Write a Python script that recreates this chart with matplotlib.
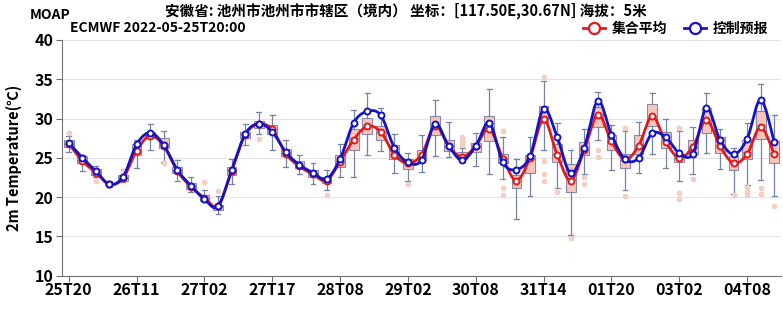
import numpy as np
import pandas as pd
import matplotlib
matplotlib.use('Agg')
import matplotlib.pyplot as plt
from matplotlib.lines import Line2D

plt.rcParams['font.family'] = ['Noto Sans CJK SC', 'DejaVu Sans']

# time axis: 3-hourly to 28T20, then 6-hourly
times = list(pd.date_range('2022-05-25 20:00', '2022-05-28 20:00', freq='3h')) + \
        list(pd.date_range('2022-05-29 02:00', '2022-06-04 20:00', freq='6h'))
labels = [t.strftime('%dT%H') for t in times]

# control forecast (blue) and ensemble mean (red)
ctrl = [26.9, 25.0, 23.3, 21.65, 22.55, 26.7, 28.2, 26.6, 23.45, 21.45,
        19.7, 18.8, 23.4, 28.0, 29.35, 28.3, 25.7, 24.1, 23.1, 22.3,
        24.85, 29.45, 30.9, 30.4, 26.3, 24.4, 24.7, 29.3, 26.5, 24.7,
        26.5, 29.45, 24.4, 23.5, 25.2, 31.2, 27.65, 23.0, 26.3, 32.25,
        27.95, 24.8, 24.95, 28.1, 27.6, 25.6, 25.5, 31.3, 27.3, 25.45,
        27.4, 32.4, 27.0]
ens_mean = [26.8, 24.6, 23.1, 21.6, 22.4, 25.9, 27.8, 26.5, 23.3, 21.3,
            19.9, 18.9, 23.3, 27.9, 29.3, 28.6, 25.5, 23.9, 22.9, 22.1,
            24.5, 27.3, 29.0, 28.3, 25.4, 24.3, 25.4, 29.1, 26.5, 25.1,
            26.5, 28.7, 24.9, 22.1, 25.0, 29.9, 25.4, 22.1, 26.0, 30.5,
            27.1, 24.8, 26.5, 30.3, 27.0, 25.0, 26.4, 29.8, 26.5, 24.3,
            25.45, 28.9, 25.45]

# ensemble box statistics
whis_lo = [25.7, 23.3, 22.5, 21.3, 21.9, 23.7, 26.0, 24.5, 22.1, 20.6,
           19.4, 17.8, 21.7, 26.6, 28.0, 26.0, 23.8, 22.9, 21.6, 20.85,
           22.6, 22.5, 25.4, 25.9, 23.0, 22.0, 23.2, 25.2, 25.1, 24.5,
           24.0, 22.9, 22.35, 17.2, 20.1, 26.0, 21.1, 15.2, 22.9, 27.2,
           23.5, 20.9, 23.1, 25.45, 23.75, 22.0, 22.9, 25.6, 23.6, 20.4,
           21.5, 22.2, 20.1]
q1 = [26.4, 24.3, 22.8, 21.5, 22.1, 25.3, 27.5, 26.3, 23.0, 21.0,
      19.5, 18.4, 22.8, 27.5, 28.8, 28.0, 25.2, 23.7, 22.6, 21.8,
      23.8, 26.0, 28.0, 27.2, 24.8, 23.6, 24.7, 27.9, 25.9, 24.8,
      25.7, 27.1, 24.3, 21.1, 23.0, 29.4, 24.5, 20.6, 25.4, 28.9,
      26.0, 23.75, 25.45, 29.05, 26.3, 24.4, 25.5, 28.2, 25.6, 23.5,
      24.8, 27.45, 24.3]
median = [26.8, 24.7, 23.2, 21.6, 22.4, 26.0, 27.9, 26.8, 23.4, 21.4,
          19.9, 18.8, 23.4, 28.0, 29.3, 28.7, 25.6, 24.0, 23.0, 22.2,
          24.6, 27.5, 29.1, 28.3, 25.5, 24.3, 25.4, 29.2, 26.5, 25.2,
          26.4, 28.8, 24.9, 22.0, 24.9, 30.2, 25.5, 22.3, 26.1, 30.6,
          27.0, 24.7, 26.6, 30.3, 27.2, 25.0, 26.4, 30.0, 26.6, 24.3,
          25.7, 29.2, 25.6]
q3 = [27.2, 25.2, 23.6, 21.8, 22.8, 26.8, 28.3, 27.5, 23.8, 21.8,
      20.3, 19.0, 23.8, 28.3, 29.7, 29.2, 26.1, 24.6, 23.4, 22.6,
      25.3, 28.7, 30.1, 29.1, 26.6, 24.8, 26.0, 30.3, 27.2, 25.7,
      26.9, 30.3, 25.5, 22.8, 25.4, 31.6, 26.8, 24.2, 27.0, 31.5,
      27.9, 25.5, 27.9, 31.8, 28.3, 25.5, 27.3, 31.4, 27.6, 25.2,
      27.2, 31.0, 27.1]
whis_hi = [27.8, 25.4, 24.0, 22.0, 23.6, 27.2, 29.3, 28.4, 24.7, 22.6,
           20.9, 20.1, 24.9, 29.3, 30.8, 30.5, 27.2, 25.4, 24.3, 23.4,
           26.8, 31.1, 33.3, 31.35, 28.0, 25.6, 27.9, 32.3, 29.6, 26.3,
           28.2, 33.8, 27.6, 24.8, 27.65, 34.8, 29.4, 26.0, 28.7, 33.4,
           29.2, 28.4, 29.5, 33.3, 30.0, 28.4, 28.9, 33.3, 28.7, 26.25,
           29.45, 34.4, 30.5]
outliers = {0: [28.2], 2: [22.0], 4: [23.3], 7: [24.3], 10: [21.9], 11: [20.8],
            14: [27.4], 19: [20.3], 25: [21.6], 29: [26.6, 27.0, 27.4, 27.7],
            32: [28.4, 21.2, 20.3], 35: [35.3, 24.55, 22.9, 22.0], 36: [20.6],
            37: [14.8], 38: [22.55, 21.6], 39: [26.0, 25.1], 41: [28.8, 20.1],
            45: [28.8, 20.5, 19.8], 46: [22.3], 49: [20.2],
            50: [21.3, 20.6, 20.3], 51: [21.1, 20.4], 52: [18.9]}


def smooth(y, n=24):
    """Catmull-Rom curve through the points, like echarts smooth line"""
    y = np.asarray(y, float)
    x = np.arange(len(y), dtype=float)
    px = np.concatenate([[x[0]], x, [x[-1]]])
    py = np.concatenate([[y[0]], y, [y[-1]]])
    xs, ys = [], []
    t = np.linspace(0, 1, n, endpoint=False)
    for i in range(1, len(px) - 2):
        for p, out in ((px, xs), (py, ys)):
            p0, p1, p2, p3 = p[i - 1], p[i], p[i + 1], p[i + 2]
            out.extend(0.5 * (2 * p1 + (-p0 + p2) * t
                              + (2 * p0 - 5 * p1 + 4 * p2 - p3) * t ** 2
                              + (-p0 + 3 * p1 - 3 * p2 + p3) * t ** 3))
    xs.append(x[-1])
    ys.append(y[-1])
    return np.array(xs), np.array(ys)


fig = plt.figure(figsize=(7.83, 3.17), dpi=100)
ax = fig.add_axes([62 / 783, 1 - 275.5 / 317, 719 / 783, 235.5 / 317])

pos = np.arange(len(labels))
stats = [dict(whislo=whis_lo[i], q1=q1[i], med=median[i], q3=q3[i],
              whishi=whis_hi[i], fliers=outliers.get(i, []))
         for i in pos]
edge = '#8a8aa4'
wcol = '#7584a2'
ax.bxp(stats, positions=pos, widths=0.72, patch_artist=True, showfliers=True,
       boxprops=dict(facecolor='#f6c6bc', edgecolor=edge, linewidth=0.8),
       medianprops=dict(color=edge, linewidth=0.8),
       whiskerprops=dict(color=wcol, linewidth=0.9),
       capprops=dict(color=wcol, linewidth=0.9),
       flierprops=dict(marker='o', markersize=3.0, markerfacecolor='#f7d3ca',
                       markeredgecolor='#f3cabe'),
       zorder=2)

red = '#e3191c'
blue = '#1414c4'
sx, sy = smooth(ens_mean)
ax.plot(sx, sy, color=red, lw=2, zorder=4)
ax.plot(pos, ens_mean, 'o', ms=4.3, mfc='white', mec=red, mew=1.4, zorder=5)
sx, sy = smooth(ctrl)
ax.plot(sx, sy, color=blue, lw=2, zorder=6)
ax.plot(pos, ctrl, 'o', ms=4.3, mfc='white', mec=blue, mew=1.4, zorder=7)

ax.set_xlim(-0.5, len(labels) - 0.5)
ax.set_ylim(10, 40)
ax.set_yticks(range(10, 41, 5))
ax.set_xticks(pos[::5])
ax.set_xticklabels(labels[::5])
ax.grid(axis='y', color='#e4e4e4', lw=0.8)
ax.set_axisbelow(True)
for s in ['top', 'right']:
    ax.spines[s].set_visible(False)
for s in ['left', 'bottom']:
    ax.spines[s].set_color('#6e7079')
ax.tick_params(axis='y', length=4, color='#6e7079', labelsize=11.5, pad=2)
ax.tick_params(axis='x', length=4, color='#6e7079', labelsize=11.5, pad=1)
for lab in ax.get_xticklabels() + ax.get_yticklabels():
    lab.set_fontweight('bold')
ax.set_ylabel('2m Temperature(℃)', fontsize=10.5, fontweight='bold', labelpad=9)

fig.text(30 / 783, 1 - 15 / 317, 'MOAP', fontsize=10, fontweight='bold',
         va='center', ha='left')
fig.text(70 / 783, 1 - 28 / 317, 'ECMWF 2022-05-25T20:00', fontsize=10,
         fontweight='bold', va='center', ha='left')
fig.text(165 / 783, 1 - 11 / 317,
         '安徽省: 池州市池州市市辖区（境内） 坐标：[117.50E,30.67N] 海拔：5米',
         fontsize=10.5, fontweight='bold', va='center', ha='left')

handles = [Line2D([], [], color=red, lw=2, marker='o', ms=8, mfc='white',
                  mec=red, mew=1.6),
           Line2D([], [], color=blue, lw=2, marker='o', ms=8, mfc='white',
                  mec=blue, mew=1.6)]
fig.legend(handles, ['集合平均', '控制预报'], loc='center right',
           bbox_to_anchor=(781 / 783, 1 - 29 / 317), ncol=2, frameon=False,
           handlelength=1.6, handletextpad=0.5, columnspacing=1.2,
           prop=dict(weight='bold', size=10))

fig.savefig('out.png', dpi=100)
